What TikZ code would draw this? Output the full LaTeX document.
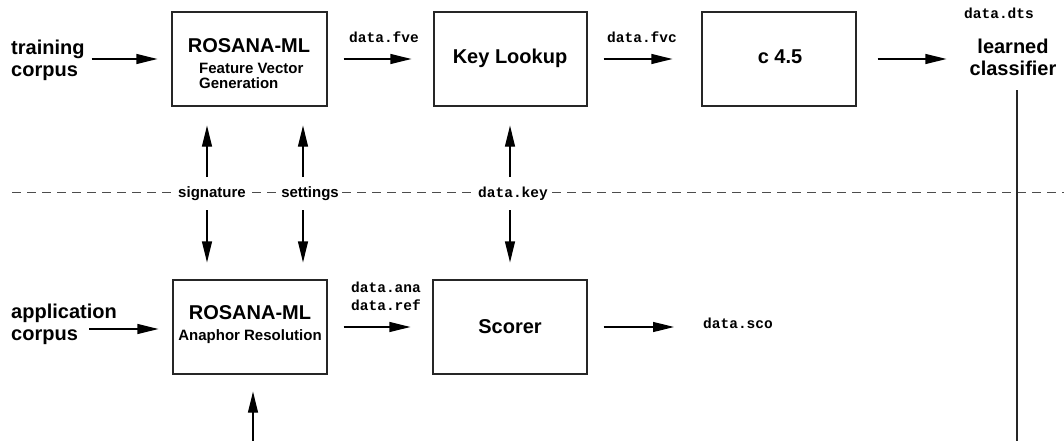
\documentclass[tikz,border=0pt]{standalone}
\usepackage{fontspec}
\setmainfont{Liberation Sans}
\newfontfamily\monofont{Liberation Mono}
\usetikzlibrary{arrows.meta,calc}
\begin{document}
\begin{tikzpicture}[x=1pt,y=-1pt,
 box/.style={draw=black!85, line width=1.2pt, inner sep=0pt},
 arr/.style={draw=black, line width=1.2pt, -{Triangle[length=21pt,width=10pt]}},
 plain/.style={draw=black!85, line width=1.2pt},
 big/.style={font=\bfseries\fontsize{20}{22}\selectfont, inner sep=0pt},
 small/.style={font=\bfseries\fontsize{15}{15}\selectfont, inner sep=0pt},
 code/.style={font=\monofont\bfseries\fontsize{14.5}{19}\selectfont, inner sep=0pt},
 dashline/.style={dash pattern=on 9pt off 6pt, line width=1pt, draw=black!70},
 lab/.style={fill=white, inner xsep=3pt, inner ysep=2pt}]
\useasboundingbox (0,0) rectangle (1064,441);

% dashed separator
\draw[dashline] (12,192) -- (1064,192);

% top row boxes
\node[box, minimum width=155pt, minimum height=94pt] (r1) at (249.5,59) {};
\node[big, anchor=base] at (249,53) {ROSANA-ML};
\node[small, anchor=base west] at (199,74) {Feature Vector};
\node[small, anchor=base west] at (199,89) {Generation};

\node[box, minimum width=153pt, minimum height=94pt] (kl) at (510.5,59) {};
\node[big, anchor=base] at (510,64) {Key Lookup};

\node[box, minimum width=154pt, minimum height=94pt] (c45) at (779,59) {};
\node[big, anchor=base] at (780,64) {c 4.5};

\node[big, align=left, anchor=north west] (train) at (11,40) {training\\corpus};
\node[big, align=center, anchor=north] (lc) at (1013,39) {learned\\classifier};

\node[code, anchor=base] (fve) at (384,43) {data.fve};
\node[code, anchor=base] (fvc) at (642,43) {data.fvc};
\node[code, anchor=base] (dts) at (999,19) {data.dts};

\draw[arr, shorten <=7pt, shorten >=14pt] (train.east |- r1.west) -- (r1.west);
\draw[arr, shorten <=16pt, shorten >=22pt] (r1) -- (kl);
\draw[arr, shorten <=16pt, shorten >=29pt] (kl) -- (c45);
\draw[arr, shorten <=21pt, shorten >=23pt] (c45.east) -- (c45.east -| lc.west);

\coordinate (vb) at (1017,441);
\draw[plain, shorten <=14pt] (lc.south -| vb) -- (vb);

% middle labels
\node[small, lab, anchor=base] (sig) at (212,197) {signature};
\node[small, lab, anchor=base] (set) at (310,197) {settings};
\node[code, lab, anchor=base] (key) at (513,197) {data.key};

\coordinate (u1) at (207,177);
\coordinate (u2) at (303,177);
\coordinate (u3) at (510,177);
\coordinate (d1) at (207,210);
\coordinate (d2) at (303,210);
\coordinate (d3) at (510,210);

% bottom row boxes
\node[box, minimum width=154pt, minimum height=94pt] (r2) at (250,327) {};
\node[big, anchor=base] at (250,319) {ROSANA-ML};
\node[small, anchor=base] at (250,340) {Anaphor Resolution};

\node[box, minimum width=154pt, minimum height=94pt] (sc) at (510,327) {};
\node[big, anchor=base] at (510,333) {Scorer};

\node[big, align=left, anchor=north west] (app) at (11,304) {application\\corpus};
\node[code, anchor=base] (ana) at (386,292) {data.ana};
\node[code, anchor=base] (ref) at (386,310) {data.ref};
\node[code, anchor=base] (sco) at (738,328) {data.sco};

\draw[arr] (u1) -- ([yshift=-19pt]u1 |- r1.south);
\draw[arr] (u2) -- ([yshift=-19pt]u2 |- r1.south);
\draw[arr] (u3) -- ([yshift=-19pt]u3 |- kl.south);
\draw[arr] (d1) -- ([yshift=17pt]d1 |- r2.north);
\draw[arr] (d2) -- ([yshift=17pt]d2 |- r2.north);
\draw[arr] (d3) -- ([yshift=17pt]d3 |- sc.north);

\coordinate (ac) at (89,329);
\draw[arr, shorten >=14pt] (ac) -- (ac -| r2.west);
\draw[arr, shorten <=16pt, shorten >=22pt] (r2) -- (sc);
\draw[arr, shorten <=16pt] (sc.east) -- ([xshift=-29pt]sco.west |- sc.east);

\coordinate (ub) at (253,441);
\draw[arr] (ub) -- ([yshift=-17pt]ub |- r2.south);
\end{tikzpicture}
\end{document}
